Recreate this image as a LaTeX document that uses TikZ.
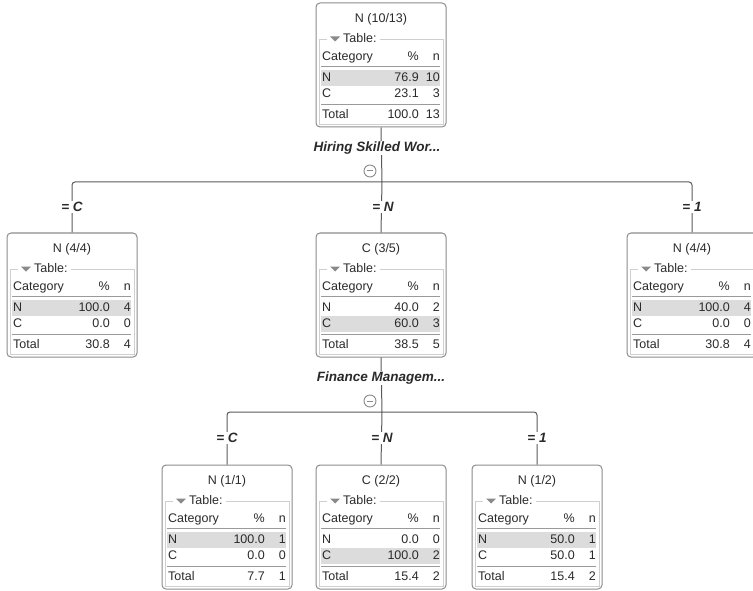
\documentclass[tikz,border=0pt]{standalone}
\usepackage{fontspec}
\setmainfont{Liberation Sans}
\definecolor{framecol}{HTML}{8C8C8C}
\definecolor{fieldcol}{HTML}{CFCFCF}
\definecolor{shadecol}{HTML}{DCDCDC}
\definecolor{rulecol}{HTML}{9A9A9A}
\definecolor{txtcol}{HTML}{2A2A2A}
\definecolor{conncol}{HTML}{5A5A5A}
\definecolor{tricol}{HTML}{8A8A8A}
\tikzset{
  dtframe/.style={draw=framecol, line width=1pt, rounded corners=4pt, fill=white,
    minimum width=130pt, minimum height=124pt, inner sep=0pt},
  dttext/.style={font=\fontsize{12.5}{14}\selectfont, text=txtcol, inner sep=0pt,
    text height=9pt, text depth=2.5pt},
  fieldset/.style={draw=fieldcol, line width=0.8pt},
  hdrrule/.style={draw=rulecol, line width=0.9pt},
  conn/.style={draw=conncol, line width=1pt},
  lbl/.style={font=\fontsize{13.5}{15}\selectfont\bfseries\itshape, text=txtcol,
    fill=white, inner sep=1pt},
  togglecirc/.style={circle, draw=tricol, line width=0.9pt, minimum size=12pt, inner sep=0pt,
    path picture={\draw[tricol, line width=1pt]
      ([xshift=2.6pt]path picture bounding box.west) -- ([xshift=-2.6pt]path picture bounding box.east);}}
}
% row: y offset, label, pct, n
\newcommand\dtrow[4]{%
  \node[dttext, anchor=west] at (6,#1) {#2};
  \node[dttext, anchor=east] at (103,#1) {#3};
  \node[dttext, anchor=east] at (124,#1) {#4};}
% box: name, cx, top, title, shade row (74 or 91), Np, Nn, Cp, Cn
\newcommand\dtbox[9]{%
  \begin{scope}[shift={(#2-65,#3)}]
    \node[dtframe] (#1) at (65,62) {};
    \node[dttext] at (65,16) {#4};
    \draw[fieldset] (3,36) rectangle (127,121);
    \fill[white] (11,29) rectangle (64,43);
    \fill[tricol] (14,33.5) -- (24,33.5) -- (19,38.5) -- cycle;
    \node[dttext, anchor=west] at (27,36) {Table:};
    \node[dttext, anchor=west] at (6,54) {Category};
    \node[dttext, anchor=east] at (103,54) {\%};
    \node[dttext, anchor=east] at (124,54) {n};
    \draw[hdrrule] (5,63.5) -- (124,63.5);
    \fill[shadecol] (5,#5-8) rectangle (124,#5+8);
    \dtrow{75}{N}{#6}{#7}
    \dtrow{91}{C}{#8}{#9}
    \draw[hdrrule] (5,101) -- (124,101);
  \end{scope}}
\newcommand\dttotal[3]{%
  \begin{scope}[shift={(#1-65,#2)}]
    \dtrow{112}{Total}{#3}{\dtn}
  \end{scope}}
\begin{document}
\begin{tikzpicture}[x=1pt,y=-1pt]
  \useasboundingbox (0,0) rectangle (753,591);
  \clip (0,0) rectangle (753,591);
  % junctions
  \coordinate (j1) at (382,182);
  \coordinate (j2) at (382,412);
  % boxes
  \dtbox{T}{381}{3}{N (10/13)}{75}{76.9}{10}{23.1}{3}
  \def\dtn{13}\dttotal{381}{3}{100.0}
  \dtbox{L1}{72}{233}{N (4/4)}{75}{100.0}{4}{0.0}{0}
  \def\dtn{4}\dttotal{72}{233}{30.8}
  \dtbox{M1}{381}{233}{C (3/5)}{91}{40.0}{2}{60.0}{3}
  \def\dtn{5}\dttotal{381}{233}{38.5}
  \dtbox{R1}{692}{233}{N (4/4)}{75}{100.0}{4}{0.0}{0}
  \def\dtn{4}\dttotal{692}{233}{30.8}
  \dtbox{L2}{227}{465}{N (1/1)}{75}{100.0}{1}{0.0}{0}
  \def\dtn{1}\dttotal{227}{465}{7.7}
  \dtbox{M2}{381}{465}{C (2/2)}{91}{0.0}{0}{100.0}{2}
  \def\dtn{2}\dttotal{381}{465}{15.4}
  \dtbox{R2}{537}{465}{N (1/2)}{75}{50.0}{1}{50.0}{1}
  \def\dtn{2}\dttotal{537}{465}{15.4}
  % connectors level 1
  \draw[conn] (T.south) -- (j1);
  \draw[conn, rounded corners=3pt] (j1) -| (L1.north);
  \draw[conn, rounded corners=3pt] (j1) -| (R1.north);
  \draw[conn] (j1) -- (M1.north);
  % connectors level 2
  \draw[conn] (M1.south) -- (j2);
  \draw[conn, rounded corners=3pt] (j2) -| (L2.north);
  \draw[conn, rounded corners=3pt] (j2) -| (R2.north);
  \draw[conn] (j2) -- (M2.north);
  % split labels and toggles
  \node[lbl] (s1) at (377,148) {Hiring Skilled Wor...};
  \node[togglecirc] (c1) at (370,171) {};
  \node[lbl] (s2) at (381,378) {Finance Managem...};
  \node[togglecirc] (c2) at (370,401) {};
  % edge labels
  \node[lbl] (e1) at (72,207) {= C};
  \node[lbl] (e2) at (383,207) {= N};
  \node[lbl] (e3) at (692,207) {= 1};
  \node[lbl] (e4) at (227,438) {= C};
  \node[lbl] (e5) at (382,438) {= N};
  \node[lbl] (e6) at (537,438) {= 1};
\end{tikzpicture}
\end{document}
